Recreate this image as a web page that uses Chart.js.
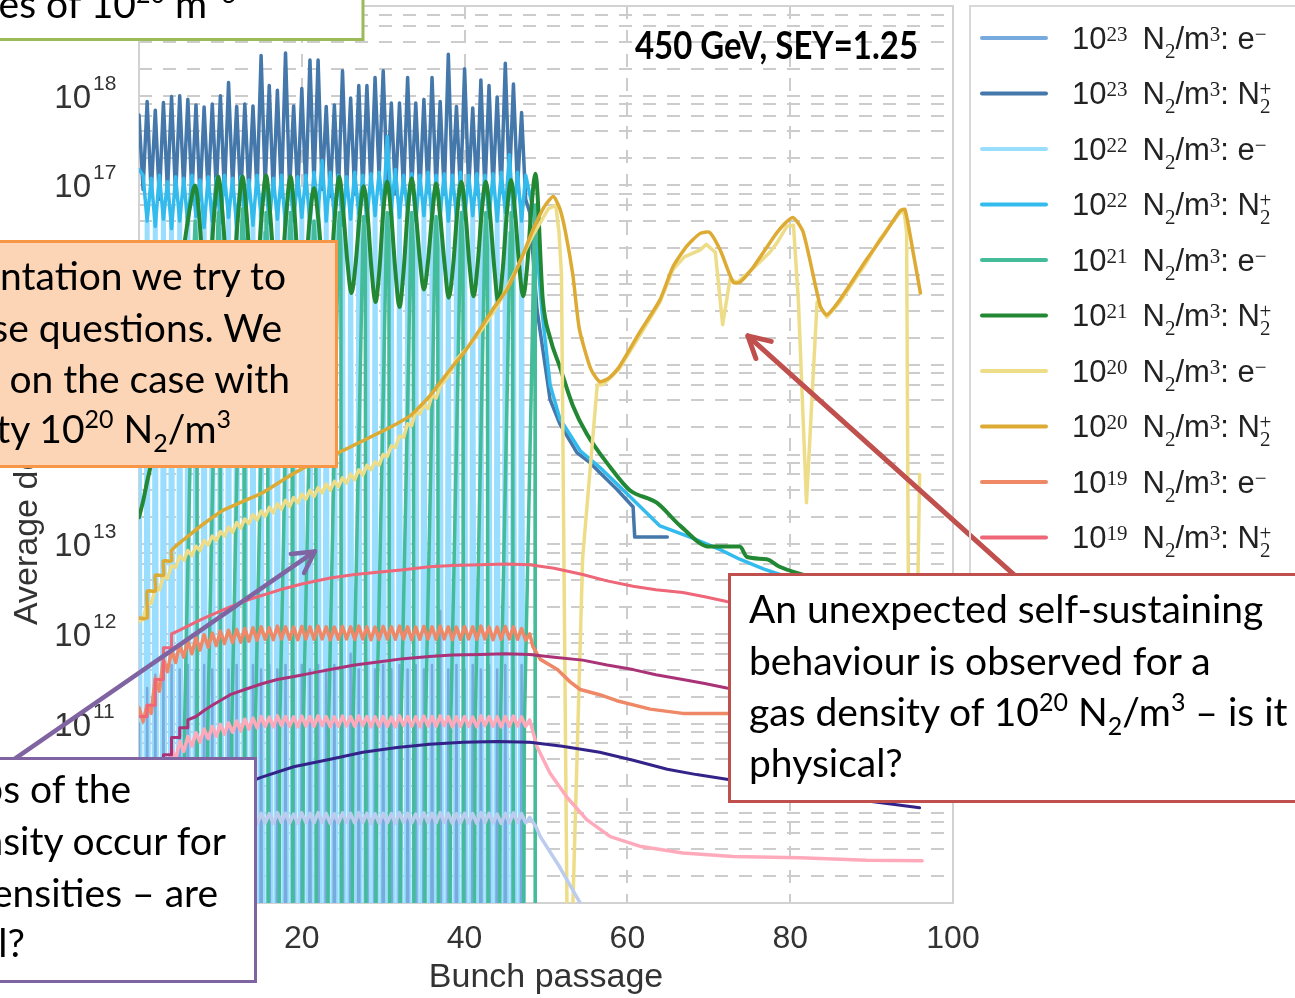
<!DOCTYPE html>
<html>
<head>
<meta charset="utf-8">
<title>Average density vs bunch passage</title>
<script src="https://cdn.jsdelivr.net/npm/chart.js@4.4.1/dist/chart.umd.min.js"></script>
<style>
  html, body { margin: 0; padding: 0; background: #fff; }
  #stage { position: relative; width: 1295px; height: 998px; overflow: hidden; background: #fff; }
  #chart { position: absolute; left: 0; top: 0; }
  #overlay { position: absolute; left: 0; top: 0; pointer-events: none; }
  .slide { font-family: Lato, "Open Sans", sans-serif; font-size: 39px; fill: #000; }
  .sup { font-size: 25px; }
  .legtext { font-family: "Liberation Sans", Arial, sans-serif; font-size: 31px; fill: #222; }
  .script { font-family: "Liberation Serif", serif; font-size: 21px; }
</style>
</head>
<body>
<div id="stage">
  <canvas id="chart" width="1295" height="998"></canvas>
  <svg id="overlay" width="1295" height="998" xmlns="http://www.w3.org/2000/svg">
    <g id="legend"></g>
    <text class="slide" x="635" y="59" font-weight="700" font-size="29" textLength="283" lengthAdjust="spacingAndGlyphs">450 GeV, SEY=1.25</text>

    <!-- top note -->
    <rect x="-10" y="-10" width="373" height="49.5" fill="#ffffff" stroke="#9BBB59" stroke-width="3"/>
    <text class="slide" x="236" y="18" text-anchor="end">densities of 10<tspan class="sup" dy="-15">20</tspan><tspan dy="15"> m</tspan><tspan class="sup" dy="-15">−3</tspan></text>

    <!-- orange note -->
    <rect x="-10" y="241.5" width="346.5" height="225" fill="#FBD5B5" stroke="#F79646" stroke-width="3"/>
    <text class="slide" x="286" y="290" text-anchor="end">presentation we try to</text>
    <text class="slide" x="282" y="342" text-anchor="end">these questions. We</text>
    <text class="slide" x="290" y="393" text-anchor="end">focus on the case with</text>
    <text class="slide" x="231" y="443" text-anchor="end">density 10<tspan class="sup" dy="-15">20</tspan><tspan dy="15"> N</tspan><tspan class="sup" dy="9">2</tspan><tspan dy="-9">/m</tspan><tspan class="sup" dy="-15">3</tspan></text>

    <!-- purple note -->
    <rect x="-10" y="758.5" width="265.5" height="223" fill="#ffffff" stroke="#8064A2" stroke-width="3"/>
    <text class="slide" x="131" y="803" text-anchor="end">Drops of the</text>
    <text class="slide" x="226" y="855" text-anchor="end">density occur for</text>
    <text class="slide" x="218" y="907" text-anchor="end">densities – are</text>
    <text class="slide" x="25" y="957" text-anchor="end">physical?</text>

    <!-- red note -->
    <rect x="729.5" y="574.5" width="600" height="227" fill="#ffffff" stroke="#C0504D" stroke-width="3"/>
    <text class="slide" x="749" y="623">An unexpected self-sustaining</text>
    <text class="slide" x="749" y="675">behaviour is observed for a</text>
    <text class="slide" x="749" y="726">gas density of 10<tspan class="sup" dy="-15">20</tspan><tspan dy="15"> N</tspan><tspan class="sup" dy="9">2</tspan><tspan dy="-9">/m</tspan><tspan class="sup" dy="-15">3</tspan><tspan dy="15"> – is it</tspan></text>
    <text class="slide" x="749" y="777">physical?</text>
  </svg>
</div>

<script>
// ---- sampling grid of the oscillating runs (bunch passages 0 .. 48, half steps) ----
const HALF_STEPS = [0,0.5,1,1.5,2,2.5,3,3.5,4,4.5,5,5.5,6,6.5,7,7.5,8,8.5,9,9.5,
  10,10.5,11,11.5,12,12.5,13,13.5,14,14.5,15,15.5,16,16.5,17,17.5,18,18.5,19,19.5,
  20,20.5,21,21.5,22,22.5,23,23.5,24,24.5,25,25.5,26,26.5,27,27.5,28,28.5,29,29.5,
  30,30.5,31,31.5,32,32.5,33,33.5,34,34.5,35,35.5,36,36.5,37,37.5,38,38.5,39,39.5,
  40,40.5,41,41.5,42,42.5,43,43.5,44,44.5,45,45.5,46,46.5,47,47.5,48];

// ---- 1e23 N2/m3 ----
const elec23 = [
  1e11,1e-5, 2.5e11,1e-5, 3.5e11,1e-5, 4e11,1e-5, 4.5e11,1e-5,
  4e11,1e-5, 4.5e11,1e-5, 4e11,1e-5, 4.5e11,1e-5, 4e11,1e-5,
  4.5e11,1e-5, 4e11,1e-5, 4.5e11,1e-5, 4e11,1e-5, 4.5e11,1e-5,
  4e11,1e-5, 4.5e11,1e-5, 4e11,1e-5, 4.5e11,1e-5, 4e11,1e-5,
  4.5e11,1e-5, 4e11,1e-5, 4.5e11,1e-5, 4e11,1e-5, 4.5e11,1e-5,
  4e11,1e-5, 6e11,1e-5, 4e11,1e-5, 4.5e11,1e-5, 4e11,1e-5,
  4.5e11,1e-5, 4e11,1e-5, 4.5e11,1e-5, 4e11,1e-5, 4.5e11,1e-5,
  4e11,1e-5, 4.5e11,1e-5, 1.8e12,1e-5, 4e11,1e-5, 4.5e11,1e-5,
  4e11,1e-5, 4.5e11,1e-5, 4e11,1e-5, 4.5e11,1e-5, 4e11,1e-5,
  4.5e11,1e-5, 4e11,1e-5, 4.5e11,1e-5,
  1e-5];
const ion23 = [
  6.1e17,9e16, 8.6e17,8e16, 6.9e17,7e16, 8.4e17,8.5e16, 9.8e17,7.5e16,
  1.0e18,9e16, 9.1e17,8e16, 7.9e17,7e16, 7.5e17,8e16, 8.1e17,9e16,
  1.0e18,8e16, 1.4e18,9.5e16, 7.6e17,7e16, 8.1e17,8e16, 7.7e17,8.5e16,
  2.8e18,1e17, 1.3e18,8e16, 1.15e18,7.5e16, 3.0e18,9e16, 7.7e17,8e16,
  1.2e18,8.5e16, 2.5e18,1e17, 2.5e18,9e16, 7.6e17,7.5e16, 7.9e17,8e16,
  1.9e18,9e16, 9.4e17,8e16, 1.3e18,8.5e16, 1.3e18,9e16, 1.6e18,1.2e17,
  1.9e18,1e17, 8.3e17,8e16, 8.3e17,8.5e16, 1.6e18,9e16, 8.3e17,8e16,
  9.1e17,8.5e16, 1.6e18,9e16, 8.6e17,8e16, 2.9e18,1e17, 7.6e17,8e16,
  2.0e18,9e16, 7.3e17,8e16, 1.5e18,8.5e16, 1.3e18,9e16, 9.7e17,8.5e16,
  2.3e18,1e17, 1.35e18,9e16, 6.5e17,7e16,
  5e16];
const ion23TailX = [48.9,50.5,51.7,53.8,55.4,56.6,58.7,60.7,60.9,64.9];
const ion23TailY = [4.1e15,4.1e14,2.2e14,1.05e14,8.1e13,6.3e13,4.1e13,2.6e13,1.2e13,1.2e13];

// ---- 1e22 N2/m3 ----
const elec22 = [
  2e16,1e-5, 4e16,1e-5, 5e16,1e-5, 6e16,1e-5, 5e16,1e-5,
  5.5e16,1e-5, 6e16,1e-5, 4.5e16,1e-5, 5.5e16,1e-5, 6e16,1e-5,
  5e16,1e-5, 6e16,1e-5, 5e16,1e-5, 5.5e16,1e-5, 6e16,1e-5,
  5e16,1e-5, 5.5e16,1e-5, 6e16,1e-5, 5e16,1e-5, 5.5e16,1e-5,
  6e16,1e-5, 5e16,1e-5, 6e16,1e-5, 5.5e16,1e-5, 5e16,1e-5,
  6e16,1e-5, 5.5e16,1e-5, 5e16,1e-5, 6e16,1e-5, 5.5e16,1e-5,
  5e16,1e-5, 6e16,1e-5, 5.5e16,1e-5, 5e16,1e-5, 6e16,1e-5,
  5.5e16,1e-5, 5e16,1e-5, 6e16,1e-5, 5.5e16,1e-5, 5e16,1e-5,
  6e16,1e-5, 5.5e16,1e-5, 5e16,1e-5, 6e16,1e-5, 5.5e16,1e-5,
  5e16,1e-5, 6e16,1e-5, 5.5e16,1e-5,
  1e-5];
const ion22 = [
  1.5e17,1.3e17, 4e16,1.2e17, 3.5e16,1.3e17, 4.2e16,1.1e17, 3.3e16,1.25e17,
  4e16,1.2e17, 3.6e16,1.3e17, 4.5e16,1.15e17, 3.4e16,1.25e17, 4e16,1.2e17,
  3.8e16,1.3e17, 4.4e16,1.2e17, 3.5e16,1.25e17, 4e16,1.15e17, 3.6e16,1.3e17,
  4.5e16,1.25e17, 3.8e16,1.2e17, 4.2e16,1.3e17, 3.5e16,1.2e17, 4e16,1.25e17,
  4.4e16,1.3e17, 3.8e16,1.4e17, 5e16,1.9e17, 4e16,1.4e17, 4.5e16,1.3e17,
  3.6e16,1.25e17, 4.2e16,1.4e17, 4.8e16,1.3e17, 4e16,1.35e17, 4.6e16,1.4e17,
  5e16,3.5e17, 5.5e16,1.5e17, 4.4e16,1.3e17, 5e16,1.35e17, 4e16,1.3e17,
  4.6e16,1.4e17, 4.2e16,1.3e17, 4.8e16,1.35e17, 4e16,1.3e17, 4.5e16,1.4e17,
  4.2e16,1.3e17, 4.6e16,1.35e17, 4e16,1.3e17, 4.4e16,1.35e17, 4e16,1.4e17,
  5e16,2.2e17, 4.5e16,1.4e17, 4e16,1.3e17,
  8e16];
const ion22TailX = [48.5,49.5,50.5,51.7,54.2,56.6,60.3,64,67.7,71.4,73.8,76.7,80,86,92,96];
const ion22TailY = [5e16,4e15,6e14,2.5e14,1.1e14,7.2e13,3.4e13,1.6e13,1.2e13,8.7e12,6.8e12,5.3e12,4.2e12,3e12,2.4e12,2e12];

// ---- 1e21 N2/m3 ----
const elec21X = [
  5.4,5.6,6.5,6.8,6.9,7.1,7.2,
  8.25,8.45,9.35,9.65,9.75,9.95,10.05,
  11.2,11.4,12.3,12.6,12.7,12.9,13.0,
  14.1,14.3,15.2,15.5,15.6,15.8,15.9,
  17.1,17.3,18.2,18.5,18.6,18.8,18.9,
  20.0,20.2,21.1,21.4,21.5,21.7,21.8,
  23.1,23.3,24.2,24.5,24.6,24.8,24.9,
  26.1,26.3,27.2,27.5,27.6,27.8,27.9,
  29.0,29.2,30.1,30.4,30.5,30.7,30.8,
  32.0,32.2,33.1,33.4,33.5,33.7,33.8,
  35.0,35.2,36.1,36.4,36.5,36.7,36.8,
  38.1,38.3,39.2,39.5,39.6,39.8,39.9,
  41.1,41.3,42.2,42.5,42.6,42.8,42.9,
  44.2,44.4,45.3,45.6,45.7,45.9,46.0,
  47.15,47.35,48.25,48.55,48.65,48.66,48.7];
const elec21Y = [
  1e6,1e11,8e14,2.5e16,4e16,2e16,1e6,
  1e6,1e11,1e15,3e16,5e16,2e16,1e6,
  1e6,1e11,1e15,3e16,5.5e16,2.5e16,1e6,
  1e6,1e11,1e15,3e16,5e16,2e16,1e6,
  1e6,1e11,1.2e15,3e16,5e16,2e16,1e6,
  1e6,1e11,1e15,2.5e16,4e16,2e16,1e6,
  1e6,1e11,1e15,3e16,5e16,2e16,1e6,
  1e6,1e11,1e15,2.5e16,4.5e16,2e16,1e6,
  1e6,1e11,1.2e15,3e16,5e16,2.5e16,1e6,
  1e6,1e11,1e15,3e16,5e16,2e16,1e6,
  1e6,1e11,1e15,3e16,4.5e16,2e16,1e6,
  1e6,1e11,1e15,3e16,5e16,2e16,1e6,
  1e6,1e11,1.2e15,3e16,5e16,2e16,1e6,
  1e6,1e11,1e15,3e16,5e16,2.5e16,1e6,
  1e6,1e11,1e15,3e16,6e16,1e6,1e6];
const ion21X = [
  0,0.5,1,1.7,3,4.5,5.5,6.3,
  6.9,7.4,7.85,8.3,8.75,9.25,
  9.75,10.25,10.75,11.2,11.7,12.2,
  12.7,13.2,13.65,14.15,14.6,15.1,
  15.6,16.1,16.6,17.1,17.6,18.1,
  18.6,19.1,19.55,20.05,20.5,21.0,
  21.5,22.0,22.55,23.05,23.6,24.1,
  24.6,25.1,25.6,26.1,26.6,27.1,
  27.6,28.1,28.55,29.05,29.55,30.0,
  30.5,31.0,31.5,32.0,32.5,33.0,
  33.5,34.0,34.5,35.0,35.5,36.0,
  36.5,37.0,37.55,38.05,38.6,39.1,
  39.6,40.1,40.6,41.1,41.6,42.1,
  42.6,43.1,43.65,44.15,44.7,45.2,
  45.7,46.2,46.7,47.2,47.7,48.2,
  48.7,49.6,50.5,51.7,53.3,55.0,57.9,60.3,63.6,66.5,70.1,73.8,74.7,77.1,78.7,84,90,96];
const ion21Y = [
  2e13,3e13,5e13,1e14,1e15,5e15,2e16,6e16,
  1e17,4.5e16,1.2e16,5e15,1.2e16,5e16,
  1.26e17,5e16,1.2e16,5e15,1.2e16,5e16,
  1.26e17,5e16,1.2e16,5e15,1.2e16,5e16,
  1.29e17,5e16,1.2e16,5e15,1.2e16,5e16,
  1.26e17,5e16,1.2e16,5e15,1.2e16,4.5e16,
  9.3e16,4.5e16,1.2e16,5e15,1.2e16,5e16,
  1.26e17,5e16,1.4e16,6.3e15,1.3e16,4.5e16,
  9.8e16,4.5e16,1.2e16,5e15,1.2e16,5e16,
  1.1e17,4.5e16,1.1e16,4.4e15,1.1e16,5e16,
  1.2e17,5e16,1.5e16,6.9e15,1.4e16,4.5e16,
  1.05e17,4.5e16,1.3e16,5.6e15,1.3e16,5e16,
  1.1e17,5e16,1.3e16,5.8e15,1.3e16,5e16,
  1.1e17,5e16,1.2e16,4.9e15,1.2e16,5e16,
  1.15e17,5e16,1.3e16,5.8e15,1.3e16,5.5e16,
  1.35e17,5.4e15,2e15,9.5e14,3.5e14,1.7e14,7.2e13,4e13,2.9e13,1.6e13,9.4e12,9.4e12,7.2e12,6.8e12,5.6e12,4e12,3e12,2.5e12];

// ---- 1e20 N2/m3 ----
const elec20Head = [
  1.38e12,1.45e12, 2.19e12,2.19e12, 3.1e12,3.1e12, 4.37e12,4.17e12, 5.75e12,5.5e12,
  7.4e12,6.6e12, 8.5e12,7.4e12, 9.5e12,8.5e12, 1.1e13,9.8e12, 1.23e13,1.1e13,
  1.38e13,1.23e13, 1.55e13,1.35e13, 1.74e13,1.51e13, 1.91e13,1.7e13, 2.14e13,1.86e13,
  2.34e13,2.04e13, 2.57e13,2.24e13, 2.82e13,2.45e13, 3.09e13,2.63e13, 3.31e13,2.88e13,
  3.63e13,3.16e13, 3.98e13,3.39e13, 4.27e13,3.72e13, 4.68e13,3.98e13, 5.01e13,4.37e13,
  5.5e13,4.79e13, 6.03e13,5.25e13, 6.76e13,5.89e13, 7.59e13,6.76e13, 8.3e13,7.6e13,
  1.0e14,9.5e13, 1.25e14,1.2e14, 1.6e14,1.55e14, 2.2e14,2.1e14, 3.02e14,2.82e14,
  3.55e14,3.24e14, 4.57e14,4.27e14, 5.75e14];
const elec20TailX = [38,39,40.5,42,44,46,48.4,50.3,51.2,51.6,51.9,52.6,53.0,54.5,56.3,57.0,59,61.5,64,65.6,
  67,68.9,69.7,70.8,71.7,72.6,73.5,75.5,77.5,78.4,79.6,80.4,81.0,82.0,83.3,84.5,86.1,89.4,91,93.5,
  94.0,94.3,94.6,95.4,95.9];
const elec20TailY = [7.5e14,1.15e15,1.6e15,2.4e15,4.5e15,1e16,2.8e16,5.5e16,6e16,3e16,1e16,5e8,1e8,7e12,6e14,6e14,9e14,2.1e15,5e15,1.15e16,
  1.6e16,1.9e16,2.2e16,1.8e16,2.8e15,9e15,8.3e15,1.2e16,1.8e16,2.3e16,3.5e16,3.6e16,5.3e15,2.9e13,5e15,3.4e15,5e15,1.4e16,2.5e16,5e16,
  5e16,3e16,1e11,1e11,6e13];
const ion20X = [0,1,1,2,2,3,3,4,4,5.9,8,10.4,12.8,15.3,17.7,20.1,22.5,25,28,30.8,
  33.3,34.6,35.8,38.2,40,41.9,43.5,45.2,46.8,48.4,49.8,50.9,51.7,52.4,53.3,54.1,55.5,56.6,57.8,59,61.5,
  64,65.6,67.3,68.9,70.1,71.4,73,73.8,75.5,78.4,80.3,81.6,83.7,84.5,86.1,89.4,91.5,93.5,94.1,95.1,96];
const ion20Y = [1.5e12,1.5e12,3e12,3e12,4.5e12,4.5e12,6.5e12,6.5e12,8.5e12,1.2e13,1.7e13,2.4e13,3e13,3.8e13,5.2e13,7e13,8.8e13,1.1e14,1.5e14,2e14,
  2.7e14,3.5e14,4.6e14,8.8e14,1.4e15,2.5e15,4.2e15,6.9e15,1.4e16,3.2e16,5.8e16,7.5e16,5.5e16,3e16,1e16,2.5e15,9e14,6.5e14,7.2e14,9.5e14,2.3e15,
  5.3e15,1.24e16,2.1e16,2.9e16,3e16,1.9e16,8.3e15,8.3e15,1.24e16,3e16,4.4e16,3e16,4.5e15,3.6e15,5.3e15,1.5e16,2.8e16,5.2e16,5.4e16,1.8e16,6.3e15];

// ---- 1e19 N2/m3 ----
const elec19 = [
  1.5e11,1.05e11, 1.6e11,1.3e11, 3.2e11,2.3e11, 5.2e11,3.8e11, 6.6e11,4.8e11,
  7.6e11,5.5e11, 8.3e11,6e11, 9.1e11,6.6e11, 9.8e11,7.1e11, 1.02e12,7.4e11,
  1.07e12,7.8e11, 1.1e12,8e11, 1.12e12,8.1e11, 1.15e12,8.3e11, 1.17e12,8.5e11,
  1.2e12,8.7e11, 1.18e12,8.6e11, 1.22e12,8.8e11, 1.2e12,8.7e11, 1.19e12,8.6e11,
  1.21e12,8.8e11, 1.2e12,8.7e11, 1.22e12,8.8e11, 1.2e12,8.6e11, 1.19e12,8.7e11,
  1.21e12,8.8e11, 1.2e12,8.7e11, 1.22e12,8.8e11, 1.2e12,8.6e11, 1.19e12,8.7e11,
  1.21e12,8.8e11, 1.2e12,8.7e11, 1.22e12,8.8e11, 1.2e12,8.6e11, 1.19e12,8.7e11,
  1.21e12,8.8e11, 1.2e12,8.7e11, 1.22e12,8.8e11, 1.2e12,8.6e11, 1.19e12,8.7e11,
  1.21e12,8.8e11, 1.2e12,8.7e11, 1.22e12,8.8e11, 1.2e12,8.6e11, 1.19e12,8.7e11,
  1.21e12,8.8e11, 1.2e12,8.7e11, 1.15e12,8.5e11,
  1.0e12];
const elec19TailX = [48.4,49.3,51.4,53,54.2,56.6,58.7,62.8,66.8,72.2,80,88,96];
const elec19TailY = [7.2e11,5.2e11,4e11,2.9e11,2.4e11,2.1e11,1.8e11,1.45e11,1.3e11,1.3e11,1.25e11,1.2e11,1.2e11];
const ion19X = [0,1,1,2,2,3,3,4,4,5,6.6,8,11.2,14,17.3,20,23.5,26.5,29.6,32.5,
  35.7,38.5,41.9,45,48,51,54.5,57.5,60.7,63.5,66.8,69.5,72.2,80,88,96];
const ion19Y = [1.2e11,1.2e11,1.6e11,1.6e11,3.1e11,3.1e11,7e11,7e11,1e12,1.1e12,1.3e12,1.5e12,2e12,2.5e12,3.1e12,3.6e12,4.2e12,4.6e12,4.9e12,5.2e12,
  5.6e12,5.8e12,5.9e12,6e12,5.9e12,5.4e12,4.6e12,3.9e12,3.4e12,3.1e12,2.9e12,2.6e12,2.3e12,1.8e12,1.5e12,1.3e12];

// ---- 1e18 N2/m3 ----
const elec18 = [
  4e9,3e9, 1e10,8e9, 2e10,1.6e10, 3.5e10,2.7e10, 5.2e10,4e10,
  6.3e10,4.9e10, 7.2e10,5.6e10, 7.9e10,6.2e10, 8.7e10,6.8e10, 9.3e10,7.2e10,
  9.8e10,7.6e10, 1.02e11,8e10, 1.07e11,8.3e10, 1.12e11,8.7e10, 1.15e11,9e10,
  1.2e11,9.3e10, 1.18e11,9.2e10, 1.22e11,9.5e10, 1.2e11,9.3e10, 1.19e11,9.2e10,
  1.21e11,9.4e10, 1.2e11,9.3e10, 1.22e11,9.5e10, 1.2e11,9.2e10, 1.19e11,9.3e10,
  1.21e11,9.4e10, 1.2e11,9.3e10, 1.22e11,9.5e10, 1.2e11,9.2e10, 1.19e11,9.3e10,
  1.2e11,9.3e10, 1.18e11,9.2e10, 1.22e11,9.5e10, 1.2e11,9.3e10, 1.19e11,9.2e10,
  1.21e11,9.4e10, 1.2e11,9.3e10, 1.22e11,9.5e10, 1.2e11,9.2e10, 1.19e11,9.3e10,
  1.2e11,9.3e10, 1.18e11,9.2e10, 1.22e11,9.5e10, 1.2e11,9.3e10, 1.19e11,9.2e10,
  1.2e11,9.3e10, 1.21e11,9.4e10, 1.19e11,9.3e10,
  1.1e11];
const elec18TailX = [48.9,50.5,52.6,55,57.9,61.5,66.8,73,81.2,89.4,96.2];
const elec18TailY = [5.5e10,2.8e10,1.5e10,8.5e9,5.5e9,4.3e9,3.6e9,3.3e9,3.2e9,3e9,2.95e9];
const ion18X = [0,2,2,3,3,4,4,5,5,6,6,7,8,9,11.2,13,15.2,17,19.4,21.5,
  23.5,26.5,29.6,32.5,35.7,38.5,41.9,45,48,51,54.5,57.5,60.7,63.5,66.8,69.5,72.2,80,88,96];
const ion18Y = [1e10,1e10,2.5e10,2.5e10,4.5e10,4.5e10,7e10,7e10,9e10,9e10,1.1e11,1.2e11,1.4e11,1.6e11,2.1e11,2.4e11,2.8e11,3.1e11,3.4e11,3.7e11,
  4e11,4.5e11,4.9e11,5.3e11,5.6e11,5.8e11,5.9e11,6e11,5.9e11,5.5e11,5.1e11,4.5e11,4e11,3.5e11,3.1e11,2.8e11,2.5e11,2e11,1.6e11,1.4e11];

// ---- 1e17 N2/m3 ----
const elec17 = [
  3e8,2.3e8, 8e8,6e8, 1.5e9,1.2e9, 2.5e9,1.9e9, 3.5e9,2.7e9,
  4.5e9,3.5e9, 5.3e9,4.1e9, 6e9,4.7e9, 6.7e9,5.2e9, 7.3e9,5.7e9,
  7.9e9,6.2e9, 8.4e9,6.6e9, 8.8e9,6.9e9, 9.2e9,7.2e9, 9.6e9,7.5e9,
  1e10,7.8e9, 9.9e9,7.7e9, 1.02e10,7.9e9, 1e10,7.8e9, 9.8e9,7.7e9,
  1.01e10,7.9e9, 1e10,7.8e9, 1.02e10,7.9e9, 1e10,7.7e9, 9.9e9,7.8e9,
  1.01e10,7.9e9, 1e10,7.8e9, 1.02e10,7.9e9, 1e10,7.7e9, 9.9e9,7.8e9,
  1e10,7.8e9, 9.9e9,7.7e9, 1.02e10,7.9e9, 1e10,7.8e9, 9.8e9,7.7e9,
  1.01e10,7.9e9, 1e10,7.8e9, 1.02e10,7.9e9, 1e10,7.7e9, 9.9e9,7.8e9,
  1e10,7.8e9, 9.9e9,7.7e9, 1.02e10,7.9e9, 1e10,7.8e9, 9.8e9,7.7e9,
  1e10,7.8e9, 1.01e10,7.9e9, 9.9e9,7.8e9,
  9e9];
const elec17TailX = [48.8,49.3,51.7,54.2,57,60];
const elec17TailY = [7e9,5.5e9,2.5e9,1e9,3e8,1e8];
const ion17X = [0,5,10,14.9,19,23.5,27.5,31.7,35.7,39.8,44,48,52,56.6,60.7,64.9,68.5,72.2,78,84,90,95.9];
const ion17Y = [3e9,8e9,1.6e10,2.5e10,3.3e10,4e10,4.8e10,5.4e10,5.9e10,6.2e10,6.3e10,6.2e10,5.6e10,4.8e10,3.9e10,3.1e10,2.7e10,2.4e10,2e10,1.6e10,1.35e10,1.15e10];

// ---- axis structure ----
const X_MIN = 0, X_MAX = 100, X_STEP = 20;
const Y_LABEL_EXPONENTS = [9,10,11,12,13,14,15,16,17,18,19];
const Y_MINOR_MULTIPLIERS = [2,4,6,8];

// annotation arrows, anchored in data coordinates [bunch passage, density]
const ARROW_LOW = { from: [-17.1, 3.1e10], to: [21.6, 8.3e12], color: '#8064A2' };
const ARROW_HIGH = { from: [108.2, 4e12], to: [74.8, 2.1e15], color: '#C0504D' };

// ---- series table in legend order; layer = stacking position (higher is drawn later) ----
const SERIES = [
  { exp: '23', kind: 'e',   color: '#77AADD', width: 2.5, layer: 2.5, xs: HALF_STEPS, ys: elec23 },
  { exp: '23', kind: 'ion', color: '#4477AA', width: 3.5, layer: 1,  xs: HALF_STEPS.concat(ion23TailX), ys: ion23.concat(ion23TailY) },
  { exp: '22', kind: 'e',   color: '#99DDFF', width: 5,   layer: 2,  xs: HALF_STEPS, ys: elec22 },
  { exp: '22', kind: 'ion', color: '#33BBEE', width: 3.5, layer: 3,  xs: HALF_STEPS.concat(ion22TailX), ys: ion22.concat(ion22TailY) },
  { exp: '21', kind: 'e',   color: '#44BB99', width: 3.5, layer: 4,  xs: elec21X, ys: elec21Y },
  { exp: '21', kind: 'ion', color: '#228833', width: 4,   layer: 5,  xs: ion21X, ys: ion21Y, smooth: true },
  { exp: '20', kind: 'e',   color: '#EEDD88', width: 3.5, layer: 6,  xs: HALF_STEPS.slice(0, elec20Head.length).concat(elec20TailX), ys: elec20Head.concat(elec20TailY) },
  { exp: '20', kind: 'ion', color: '#DDAA33', width: 3.5, layer: 7,  xs: ion20X, ys: ion20Y, tension: 0.2 },
  { exp: '19', kind: 'e',   color: '#EE8866', width: 3.5, layer: 8,  xs: HALF_STEPS.concat(elec19TailX), ys: elec19.concat(elec19TailY) },
  { exp: '19', kind: 'ion', color: '#EE6677', width: 3,   layer: 9,  xs: ion19X, ys: ion19Y },
  { exp: '18', kind: 'e',   color: '#FFAABB', width: 3.5, layer: 10, xs: HALF_STEPS.concat(elec18TailX), ys: elec18.concat(elec18TailY) },
  { exp: '18', kind: 'ion', color: '#AA3377', width: 3,   layer: 11, xs: ion18X, ys: ion18Y },
  { exp: '17', kind: 'e',   color: '#BBCCEE', width: 3.5, layer: 12, xs: HALF_STEPS.concat(elec17TailX), ys: elec17.concat(elec17TailY) },
  { exp: '17', kind: 'ion', color: '#332288', width: 3,   layer: 13, xs: ion17X, ys: ion17Y }
];

function toPoints(xs, ys) {
  return xs.map((x, i) => ({ x: x, y: ys[i] }));
}

const datasets = SERIES.map(s => ({
  label: '10^' + s.exp + ' N2/m3: ' + (s.kind === 'e' ? 'e-' : 'N2+'),
  data: toPoints(s.xs, s.ys),
  borderColor: s.color,
  backgroundColor: s.color,
  borderWidth: s.width,
  pointRadius: 0,
  fill: false,
  tension: s.tension || 0,
  cubicInterpolationMode: s.smooth ? 'monotone' : 'default',
  borderJoinStyle: 'round',
  borderCapStyle: 'round',
  order: 100 - s.layer
}));

// gridline values on the log axis: each decade plus 2, 4, 6, 8 times it
const Y_GRID_VALUES = [];
Y_LABEL_EXPONENTS.forEach(e => {
  Y_GRID_VALUES.push(Math.pow(10, e));
  if (e < 19) Y_MINOR_MULTIPLIERS.forEach(m => Y_GRID_VALUES.push(m * Math.pow(10, e)));
});

function drawArrow(ctx, x1, y1, x2, y2, color, width, headLen) {
  ctx.save();
  ctx.strokeStyle = color;
  ctx.lineWidth = width;
  ctx.lineCap = 'round';
  ctx.lineJoin = 'round';
  ctx.setLineDash([]);
  ctx.beginPath();
  ctx.moveTo(x1, y1);
  ctx.lineTo(x2, y2);
  ctx.stroke();
  const ang = Math.atan2(y2 - y1, x2 - x1);
  ctx.beginPath();
  ctx.moveTo(x2 - headLen * Math.cos(ang - 0.5), y2 - headLen * Math.sin(ang - 0.5));
  ctx.lineTo(x2, y2);
  ctx.lineTo(x2 - headLen * Math.cos(ang + 0.5), y2 - headLen * Math.sin(ang + 0.5));
  ctx.stroke();
  ctx.restore();
}

const decorations = {
  id: 'decorations',
  beforeDatasetsDraw(chart) {
    const { ctx, chartArea: a } = chart;
    ctx.save();
    ctx.strokeStyle = '#d2d2d2';
    ctx.lineWidth = 2;
    ctx.setLineDash([]);
    ctx.strokeRect(a.left, a.top, a.right - a.left, a.bottom - a.top);
    ctx.restore();
  },
  afterDraw(chart) {
    const ctx = chart.ctx;
    const ys = chart.scales.y, xs = chart.scales.x;
    ctx.save();
    ctx.fillStyle = '#333333';
    Y_LABEL_EXPONENTS.forEach(e => {
      const py = ys.getPixelForValue(Math.pow(10, e));
      ctx.font = '33px "Liberation Sans", Arial, sans-serif';
      ctx.textAlign = 'right';
      ctx.textBaseline = 'alphabetic';
      ctx.fillText('10', 91, py + 12);
      ctx.font = '21px "Liberation Sans", Arial, sans-serif';
      ctx.textAlign = 'left';
      ctx.fillText(String(e), 93, py - 6);
    });
    ctx.translate(37, 625);
    ctx.rotate(-Math.PI / 2);
    ctx.font = '34px "Liberation Sans", Arial, sans-serif';
    ctx.textAlign = 'left';
    ctx.fillText('Average density [m\u207B\u00B3]', 0, 0);
    ctx.restore();

    [ARROW_LOW, ARROW_HIGH].forEach((a, k) => {
      drawArrow(ctx,
        xs.getPixelForValue(a.from[0]), ys.getPixelForValue(a.from[1]),
        xs.getPixelForValue(a.to[0]), ys.getPixelForValue(a.to[1]),
        a.color, k === 0 ? 4.5 : 5, 24);
    });
  }
};

Chart.defaults.font.family = '"Liberation Sans", Arial, sans-serif';

new Chart(document.getElementById('chart'), {
  type: 'line',
  data: { datasets: datasets },
  options: {
    responsive: false,
    animation: false,
    events: [],
    layout: { padding: { top: 6, right: 342, left: 0, bottom: 0 } },
    plugins: { legend: { display: false }, tooltip: { enabled: false } },
    scales: {
      x: {
        type: 'linear',
        min: X_MIN, max: X_MAX,
        ticks: { stepSize: X_STEP, color: '#333333', font: { size: 32 }, padding: 17, maxRotation: 0 },
        grid: { color: '#cccccc', lineWidth: 2, drawTicks: false },
        border: { display: false, dash: [13, 11] },
        title: { display: true, text: 'Bunch passage', color: '#333333', font: { size: 34 }, padding: { top: 0, bottom: 0 } },
        afterFit(scale) { scale.height = 95; }
      },
      y: {
        type: 'logarithmic',
        min: 1e9, max: 1e19,
        afterBuildTicks(scale) { scale.ticks = Y_GRID_VALUES.map(v => ({ value: v })); },
        ticks: { display: false },
        grid: { color: '#cccccc', lineWidth: 2, drawTicks: false },
        border: { display: false, dash: [13, 11] },
        afterFit(scale) { scale.width = 139; }
      }
    }
  },
  plugins: [decorations]
});

// ---- legend, built from the series table ----
(function buildLegend() {
  const NS = 'http://www.w3.org/2000/svg';
  const g = document.getElementById('legend');
  const frame = document.createElementNS(NS, 'rect');
  frame.setAttribute('x', 970); frame.setAttribute('y', 6);
  frame.setAttribute('width', 420); frame.setAttribute('height', 786);
  frame.setAttribute('fill', 'none'); frame.setAttribute('stroke', '#d9d9d9'); frame.setAttribute('stroke-width', 2);
  g.appendChild(frame);

  function span(parent, text, opts) {
    const t = document.createElementNS(NS, 'tspan');
    t.textContent = text;
    if (opts.dx) t.setAttribute('dx', opts.dx);
    if (opts.dy) t.setAttribute('dy', opts.dy);
    if (opts.script) t.setAttribute('class', 'script');
    parent.appendChild(t);
  }

  SERIES.forEach((s, i) => {
    const yc = 38 + 55.5 * i;
    const line = document.createElementNS(NS, 'line');
    line.setAttribute('x1', 982); line.setAttribute('x2', 1046);
    line.setAttribute('y1', yc); line.setAttribute('y2', yc);
    line.setAttribute('stroke', s.color); line.setAttribute('stroke-width', 4);
    line.setAttribute('stroke-linecap', 'round');
    g.appendChild(line);

    const t = document.createElementNS(NS, 'text');
    t.setAttribute('x', 1072); t.setAttribute('y', yc + 10.5);
    t.setAttribute('class', 'legtext');
    span(t, '10', {});
    span(t, s.exp, { dy: -8, script: true });
    span(t, 'N', { dx: 15, dy: 8 });
    span(t, '2', { dy: 9, script: true });
    span(t, '/m', { dy: -9 });
    span(t, '3', { dy: -8, script: true });
    if (s.kind === 'e') {
      span(t, ': e', { dy: 8 });
      span(t, '\u2212', { dy: -8, script: true });
    } else {
      span(t, ': N', { dy: 8 });
      span(t, '2', { dy: 9, script: true });
      span(t, '+', { dx: -11, dy: -17, script: true });
    }
    g.appendChild(t);
  });
})();
</script>
</body>
</html>
